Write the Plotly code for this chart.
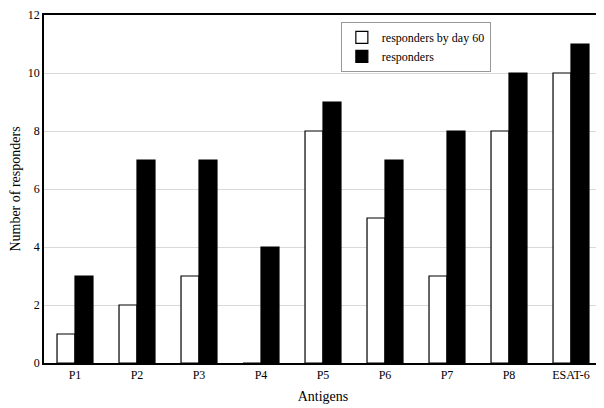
import plotly.graph_objects as go

# Data
antigens = ["P1", "P2", "P3", "P4", "P5", "P6", "P7", "P8", "ESAT-6"]
by_day_60 = [1, 2, 3, 0, 8, 5, 3, 8, 10]
responders = [3, 7, 7, 4, 9, 7, 8, 10, 11]

serif = "Liberation Serif, Times New Roman, serif"

fig = go.Figure()
fig.add_trace(go.Bar(x=antigens, y=by_day_60, name="responders by day 60",
                     marker=dict(color="white", line=dict(color="black", width=1.2))))
fig.add_trace(go.Bar(x=antigens, y=responders, name="responders",
                     marker=dict(color="black", line=dict(color="black", width=1.2))))

# page body adds an 8px margin, so the figure is a bit smaller than the window
fig.update_layout(
    width=596, height=400,
    margin=dict(l=36, r=2, t=7, b=45),
    paper_bgcolor="white", plot_bgcolor="white",
    barmode="group", bargap=0.42, bargroupgap=0,
    font=dict(family=serif, size=12, color="black"),
    legend=dict(x=0.532, y=0.98, xanchor="left", yanchor="top",
                bordercolor="#999999", borderwidth=1, bgcolor="white",
                font=dict(family=serif, size=12), tracegroupgap=0,
                itemwidth=30),
)
fig.update_xaxes(title=dict(text="Antigens", standoff=10), showline=True, linecolor="black",
                 linewidth=1.5, mirror=True, ticks="", tickfont=dict(size=12),
                 automargin=False)
fig.update_yaxes(title=dict(text="Number of responders", standoff=12), range=[0, 12], dtick=2,
                 showline=True, linecolor="black", linewidth=1.5, mirror=True,
                 showgrid=True, gridcolor="#d9d9d9", gridwidth=1, ticks="",
                 zeroline=False, tickfont=dict(size=12), automargin=False,
                 ticklabeloverflow="allow")

fig.write_html("out.html")
